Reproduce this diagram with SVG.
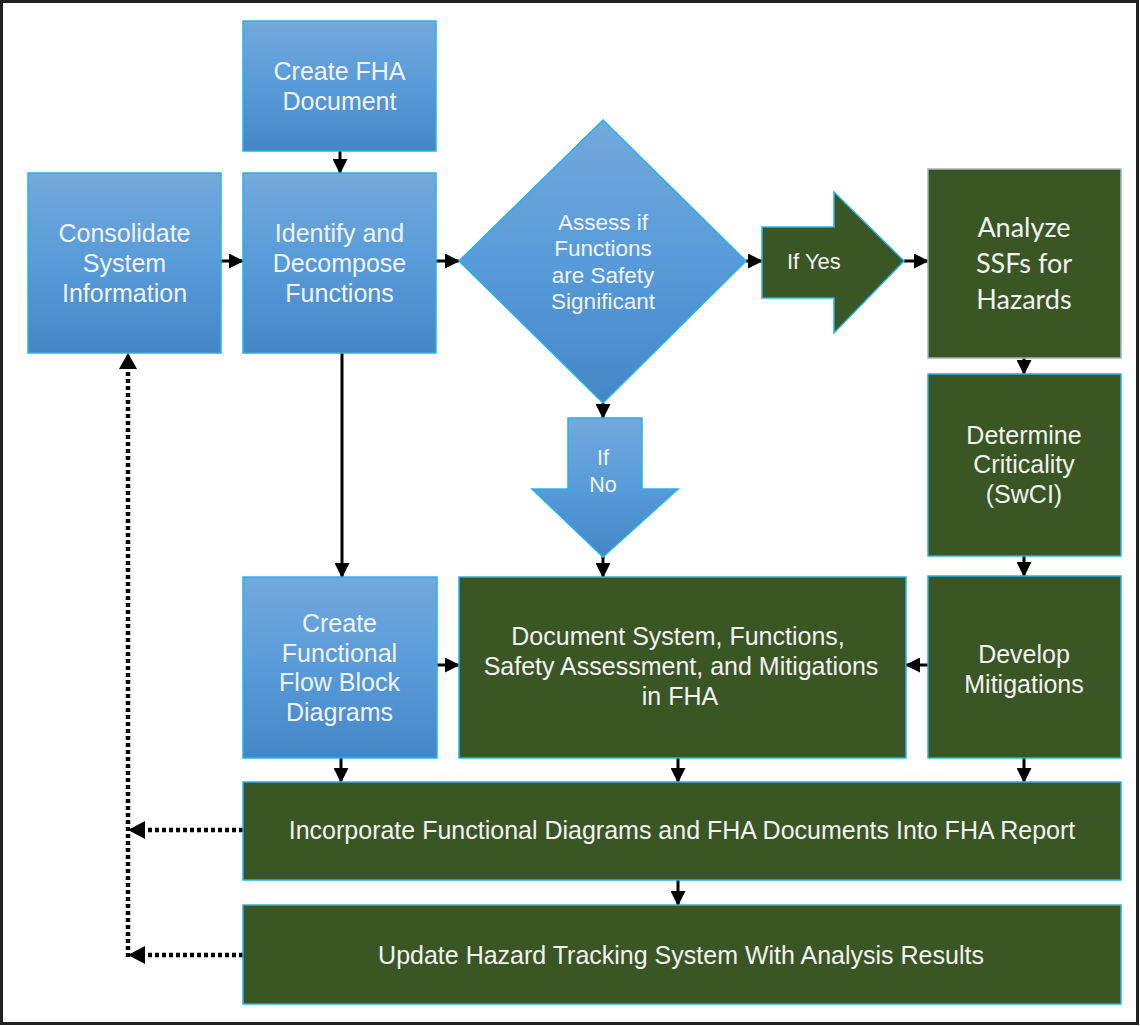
<svg xmlns="http://www.w3.org/2000/svg" width="1140" height="1026" viewBox="0 0 1140 1026">
<defs>
<linearGradient id="blue" x1="0" y1="0" x2="0" y2="1">
<stop offset="0" stop-color="#74A9DC"/>
<stop offset="0.5" stop-color="#579BD9"/>
<stop offset="1" stop-color="#4487C7"/>
</linearGradient>
<marker id="ah" markerUnits="userSpaceOnUse" viewBox="0 0 15 15" markerWidth="15" markerHeight="15" refX="14" refY="7.5" orient="auto">
<path d="M0,0 L15,7.5 L0,15 z" fill="#000"/>
</marker>
<style>
.bl{fill:url(#blue);stroke:#22B4E8;stroke-width:1.5}
.gr{fill:#3A5624;stroke:#22B4E8;stroke-width:1.5}
.t{font-family:"Liberation Sans",Arial,sans-serif;font-size:25px;fill:#F2F2F2;text-anchor:middle}
.ts{font-size:22.5px}
.tc{font-family:Lato,"Liberation Sans",sans-serif;font-size:27px}
.c{stroke:#000;stroke-width:3;fill:none;marker-end:url(#ah)}
.d{stroke:#000;stroke-width:4.5;fill:none;stroke-dasharray:4 3}
</style>
</defs>
<rect x="1.5" y="1.5" width="1136" height="1022" fill="#FFFFFF" stroke="#222" stroke-width="3"/>

<g id="connectors">
<line class="c" x1="340" y1="151" x2="340" y2="173"/>
<line class="c" x1="221" y1="261" x2="243" y2="261"/>
<line class="c" x1="436" y1="261" x2="459" y2="261"/>
<line class="c" x1="746" y1="261" x2="762" y2="261"/>
<line class="c" x1="904" y1="261" x2="928" y2="261"/>
<line class="c" x1="1024" y1="358" x2="1024" y2="374"/>
<line class="c" x1="1024" y1="556" x2="1024" y2="576"/>
<line class="c" x1="928" y1="665" x2="906" y2="665"/>
<line class="c" x1="342" y1="353" x2="342" y2="577"/>
<line class="c" x1="603" y1="403" x2="603" y2="418"/>
<line class="c" x1="603" y1="556" x2="603" y2="577"/>
<line class="c" x1="437" y1="665" x2="459" y2="665"/>
<line class="c" x1="341" y1="758" x2="341" y2="782"/>
<line class="c" x1="678" y1="758" x2="678" y2="782"/>
<line class="c" x1="1024" y1="758" x2="1024" y2="782"/>
<line class="c" x1="678" y1="880" x2="678" y2="905"/>
<path class="d" d="M243,830 H140"/>
<path d="M128,830 L145,821 L145,839 z" fill="#000"/>
<path class="d" d="M243,955 H140"/>
<path d="M128,955 L145,946 L145,964 z" fill="#000"/>
<path class="d" d="M128,957 V366"/>
<path d="M128,353 L119,369 L137,369 z" fill="#000"/>
</g>

<g id="n-create-fha">
<rect class="bl" x="243" y="21" width="193" height="130"/>
<text class="t" x="339.5" y="80">Create FHA</text>
<text class="t" x="339.5" y="110">Document</text>
</g>
<g id="n-consolidate">
<rect class="bl" x="28" y="173" width="193" height="180"/>
<text class="t" x="124.5" y="242">Consolidate</text>
<text class="t" x="124.5" y="272">System</text>
<text class="t" x="124.5" y="302">Information</text>
</g>
<g id="n-identify">
<rect class="bl" x="243" y="173" width="193" height="180"/>
<text class="t" x="339.5" y="242">Identify and</text>
<text class="t" x="339.5" y="272">Decompose</text>
<text class="t" x="339.5" y="302">Functions</text>
</g>
<g id="n-assess">
<path class="bl" d="M603,120 L746,261 L603,403 L459,261 z"/>
<text class="t ts" x="603" y="230">Assess  if</text>
<text class="t ts" x="603" y="256">Functions</text>
<text class="t ts" x="603" y="283">are Safety</text>
<text class="t ts" x="603" y="309">Significant</text>
</g>
<g id="n-if-yes">
<path class="gr" d="M762,227 H834 V192 L904,261 L834,333 V298 H762 z"/>
<text class="t" style="font-size:22px;text-anchor:start" x="787" y="269">If Yes</text>
</g>
<g id="n-analyze">
<rect class="gr" x="928" y="169" width="193" height="189" style="stroke:#A9B4B0"/>
<text class="t tc" x="1024" y="237">Analyze</text>
<text class="t tc" x="1024" y="273">SSFs for</text>
<text class="t tc" x="1024" y="309">Hazards</text>
</g>
<g id="n-determine">
<rect class="gr" x="928" y="374" width="193" height="182"/>
<text class="t" x="1024" y="444">Determine</text>
<text class="t" x="1024" y="473">Criticality</text>
<text class="t" x="1024" y="503">(SwCI)</text>
</g>
<g id="n-if-no">
<path class="bl" d="M568,418 H642 V489 H678 L603,557 L532,489 H568 z"/>
<text class="t" style="font-size:21.5px" x="603" y="465">If</text>
<text class="t" style="font-size:21.5px" x="603" y="492">No</text>
</g>
<g id="n-create-ffbd">
<rect class="bl" x="243" y="577" width="194" height="181"/>
<text class="t" x="339.5" y="632">Create</text>
<text class="t" x="339.5" y="662">Functional</text>
<text class="t" x="339.5" y="691">Flow Block</text>
<text class="t" x="339.5" y="721">Diagrams</text>
</g>
<g id="n-document">
<rect class="gr" x="459" y="577" width="447" height="181"/>
<text class="t" x="678" y="645">Document System, Functions,</text>
<text class="t" x="681" y="675">Safety Assessment, and Mitigations</text>
<text class="t" x="680" y="705">in FHA</text>
</g>
<g id="n-develop">
<rect class="gr" x="928" y="576" width="193" height="182"/>
<text class="t" x="1024" y="663">Develop</text>
<text class="t" x="1024" y="693">Mitigations</text>
</g>
<g id="n-incorporate">
<rect class="gr" x="243" y="782" width="878" height="98"/>
<text class="t" x="682" y="839">Incorporate Functional Diagrams and FHA Documents Into FHA Report</text>
</g>
<g id="n-update">
<rect class="gr" x="243" y="905" width="878" height="99"/>
<text class="t" x="681" y="964">Update Hazard Tracking System With Analysis Results</text>
</g>
</svg>
